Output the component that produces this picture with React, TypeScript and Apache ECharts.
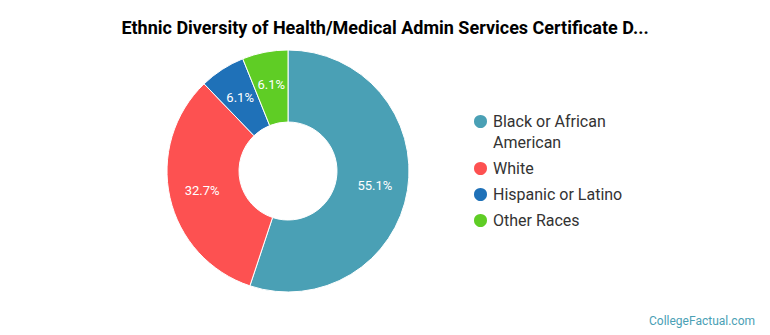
import React, { useEffect, useRef } from "react";
import * as echarts from "echarts";

// Share of certificate earners by race/ethnicity (percent)
const categories = [
  "Black or African American",
  "White",
  "Hispanic or Latino",
  "Other Races",
];
const shares = [55.1, 32.7, 6.1, 6.1];
const colors = ["#4aa0b5", "#fd5151", "#1f71b8", "#5fcd25"];

const titleText =
  "Ethnic Diversity of Health/Medical Admin Services Certificate D...";
const creditText = "CollegeFactual.com";

const FONT = "Roboto, 'Noto Sans', sans-serif";

export default function App() {
  const ref = useRef<HTMLDivElement>(null);

  useEffect(() => {
    if (!ref.current) return;
    const chart = echarts.init(ref.current, undefined, { renderer: "svg" });

    const legendText = {
      fontFamily: FONT,
      fontSize: 16,
      color: "#333333",
      lineHeight: 21,
    };

    chart.setOption({
      animation: false,
      backgroundColor: "#ffffff",
      title: {
        text: titleText,
        left: "center",
        top: 13,
        textStyle: {
          fontFamily: FONT,
          fontWeight: "bold",
          fontSize: 18,
          color: "#000000",
        },
      },
      legend: [
        {
          // leading blank line keeps the first text line level with the marker
          data: [categories[0]],
          orient: "vertical",
          left: 472,
          top: 90,
          padding: 0,
          icon: "circle",
          itemWidth: 15,
          itemHeight: 15,
          selectedMode: false,
          formatter: () => "\nBlack or African\nAmerican",
          textStyle: legendText,
        },
        {
          data: categories.slice(1),
          orient: "vertical",
          left: 472,
          top: 158,
          padding: 0,
          icon: "circle",
          itemWidth: 15,
          itemHeight: 15,
          itemGap: 5,
          selectedMode: false,
          textStyle: legendText,
        },
      ],
      series: [
        {
          type: "pie",
          center: [288, 171],
          radius: [49, 121],
          startAngle: 90,
          clockwise: true,
          avoidLabelOverlap: false,
          itemStyle: { borderColor: "#ffffff", borderWidth: 1 },
          label: {
            show: true,
            position: "inside",
            formatter: (p: any) => `${p.value}%`,
            color: "#ffffff",
            fontFamily: FONT,
            fontSize: 13,
          },
          labelLine: { show: false },
          emphasis: { disabled: true },
          data: categories.map((name, i) => ({
            name,
            value: shares[i],
            itemStyle: { color: colors[i] },
          })),
        },
      ],
      graphic: [
        {
          type: "text",
          right: 15,
          top: 315,
          style: {
            text: creditText,
            fill: "#4aa0b5",
            font: `12px ${FONT}`,
          },
        },
      ],
    });

    return () => chart.dispose();
  }, []);

  return (
    <div
      ref={ref}
      style={{ position: "fixed", left: 0, top: 0, width: 770, height: 335 }}
    />
  );
}
